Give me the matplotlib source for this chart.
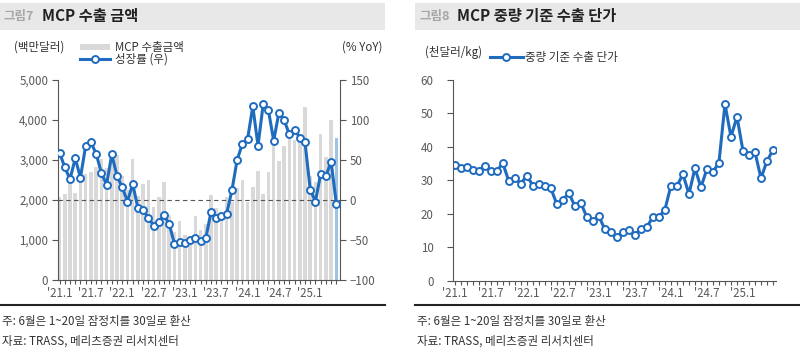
import matplotlib
matplotlib.use("Agg")
import matplotlib.pyplot as plt
from matplotlib.patches import Rectangle
from matplotlib.lines import Line2D

plt.rcParams['font.family'] = ['Noto Sans CJK KR', 'DejaVu Sans']

# months '21.1 ~ '25.6
months = list(range(54))
tick_pos = [0, 6, 12, 18, 24, 30, 36, 42, 48]
tick_labels = ["'21.1", "'21.7", "'22.1", "'22.7", "'23.1", "'23.7", "'24.1", "'24.7", "'25.1"]

# MCP export amount (million USD)
export_amt = [2080, 2140, 2600, 2180, 2540, 2650, 2710, 2820, 3030, 2800, 3050, 3130,
              2600, 2250, 3030, 2100, 2400, 2500, 1830, 2075, 2450, 1630, 1200, 1480,
              1120, 1050, 1600, 1250, 1400, 2130, 1800, 1600, 2080, 1950, 2300, 2500,
              1960, 2320, 2720, 2160, 2700, 3460, 2980, 3350, 3620, 3500, 3450, 4330,
              2600, 2450, 3650, 3080, 4000, 3560]
# growth (% YoY, right axis)
growth = [59, 41, 26, 52, 28, 68, 72, 58, 34, 19, 57, 30,
          16, -2, 20, -10, -13, -22, -32, -27, -19, -30, -55, -53,
          -54, -50, -48, -51, -48, -15, -22, -20, -17, 12, 50, 70,
          76, 117, 68, 120, 112, 74, 109, 100, 82, 88, 78, 72,
          13, -2, 33, 30, 48, -5]
# unit price by weight (thousand USD/kg)
unit_price = [34.7, 33.8, 34.1, 33.2, 32.9, 34.3, 32.9, 32.8, 35.1, 29.7, 30.6, 29.0,
              31.4, 28.4, 28.8, 28.2, 27.6, 22.8, 24.2, 26.1, 22.3, 23.2, 18.9, 17.7,
              19.2, 15.3, 14.4, 12.9, 14.6, 15.1, 13.6, 15.5, 16.0, 19.1, 19.0, 21.2,
              28.4, 28.3, 31.8, 25.9, 33.6, 27.9, 33.4, 32.5, 35.3, 52.8, 43.0, 49.0,
              38.8, 37.5, 38.4, 30.6, 35.8, 39.0]

W, H = 800, 350
BLUE = '#1f6cbf'
GRAY_TXT = '#595959'
BAR = '#d9d9d9'
BAR_LAST = '#9dc3e6'

def fx(x):
    return x / W

def fy(y):
    return 1 - y / H

fig = plt.figure(figsize=(8, 3.5), dpi=100)

# title bands
for x0, x1, num, title in [(0, 385, '그림7', 'MCP 수출 금액'), (415, 800, '그림8', 'MCP 중량 기준 수출 단가')]:
    fig.patches.append(Rectangle((fx(x0), fy(30)), fx(x1 - x0), 27 / H, transform=fig.transFigure,
                                 facecolor='#e8e8e8', edgecolor='none', zorder=0))
    fig.text(fx(x0 + 4), fy(16.5), num, fontsize=9, color='#a6a6a6', fontweight='bold', va='center')
    fig.text(fx(x0 + 42), fy(16.5), title, fontsize=11, color='#222222', fontweight='bold', va='center')
    # footer
    fig.add_artist(Line2D([fx(x0), fx(x1)], [fy(305), fy(305)], color='#222222', lw=1.5))
    fig.text(fx(x0 + 2), fy(322), '주: 6월은 1~20일 잠정치를 30일로 환산', fontsize=8.3, color='#333333', va='center')
    fig.text(fx(x0 + 2), fy(341), '자료: TRASS, 메리츠증권 리서치센터', fontsize=8.3, color='#333333', va='center')

def style_xaxis(ax):
    ax.set_xticks(months, minor=True)
    ax.set_xticks(tick_pos)
    ax.set_xticklabels(tick_labels)
    ax.tick_params(axis='x', which='both', direction='out', length=3, width=0.8, color='#555555',
                   labelsize=8.3, labelcolor=GRAY_TXT, pad=2)

# ---- left chart ----
ax1 = fig.add_axes([fx(58), fy(280), fx(340 - 58), (280 - 80) / H])
colors = [BAR] * (len(months) - 1) + [BAR_LAST]
ax1.bar(months, export_amt, width=0.68, color=colors, zorder=1)
ax1.set_ylim(0, 5000)
ax1.set_yticks([0, 1000, 2000, 3000, 4000, 5000])
ax1.set_yticklabels(['0', '1,000', '2,000', '3,000', '4,000', '5,000'])
ax1.set_xlim(-0.3, 53.7)
style_xaxis(ax1)
ax1.tick_params(axis='y', direction='out', length=4, width=0.8, color='#555555', labelsize=8.3,
                labelcolor=GRAY_TXT, pad=3)
for s in ['top', 'right']:
    ax1.spines[s].set_visible(False)
for s in ['left', 'bottom']:
    ax1.spines[s].set_color('#555555')
    ax1.spines[s].set_linewidth(0.8)

ax2 = ax1.twinx()
ax2.set_ylim(-100, 150)
ax2.set_yticks([-100, -50, 0, 50, 100, 150])
ax2.axhline(0, color='#555555', lw=0.8, ls=(0, (4, 3)), zorder=2)
ax2.plot(months, growth, color=BLUE, lw=2.2, marker='o', ms=5, mfc='white', mec=BLUE, mew=1.4, zorder=3)
ax2.tick_params(axis='y', direction='out', length=4, width=0.8, color='#555555', labelsize=8.3,
                labelcolor=GRAY_TXT, pad=3)
for s in ['top', 'left', 'bottom']:
    ax2.spines[s].set_visible(False)
ax2.spines['right'].set_color('#555555')
ax2.spines['right'].set_linewidth(0.8)

fig.text(fx(14), fy(47), '(백만달러)', fontsize=8.3, color='#333333', va='center')
fig.text(fx(382), fy(47), '(% YoY)', fontsize=8.3, color='#333333', va='center', ha='right')
fig.patches.append(Rectangle((fx(80), fy(50)), fx(30), 6 / H, transform=fig.transFigure,
                             facecolor=BAR, edgecolor='none'))
fig.text(fx(115), fy(47), 'MCP 수출금액', fontsize=8.3, color='#333333', va='center')
fig.add_artist(Line2D([fx(80), fx(110)], [fy(59), fy(59)], color=BLUE, lw=2.2))
fig.add_artist(Line2D([fx(95)], [fy(59)], marker='o', ms=5, mfc='white', mec=BLUE, mew=1.4))
fig.text(fx(115), fy(59), '성장률 (우)', fontsize=8.3, color='#333333', va='center')

# ---- right chart ----
ax3 = fig.add_axes([fx(453), fy(280.5), fx(776 - 453), (280.5 - 80) / H])
ax3.plot(months, unit_price, color=BLUE, lw=2.2, marker='o', ms=5, mfc='white', mec=BLUE, mew=1.4)
ax3.set_ylim(0, 60)
ax3.set_yticks([0, 10, 20, 30, 40, 50, 60])
ax3.set_xlim(-0.3, 53.5)
style_xaxis(ax3)
ax3.tick_params(axis='y', direction='out', length=4, width=0.8, color='#555555', labelsize=8.3,
                labelcolor=GRAY_TXT, pad=10)
for s in ['top', 'right']:
    ax3.spines[s].set_visible(False)
for s in ['left', 'bottom']:
    ax3.spines[s].set_color('#555555')
    ax3.spines[s].set_linewidth(0.8)

fig.text(fx(425), fy(52), '(천달러/kg)', fontsize=8.3, color='#333333', va='center')
fig.add_artist(Line2D([fx(490), fx(523)], [fy(57), fy(57)], color=BLUE, lw=2.2))
fig.add_artist(Line2D([fx(506)], [fy(57)], marker='o', ms=5, mfc='white', mec=BLUE, mew=1.4))
fig.text(fx(525), fy(57), '중량 기준 수출 단가', fontsize=8.3, color='#333333', va='center')

fig.savefig('out.png', dpi=100, facecolor='white')
